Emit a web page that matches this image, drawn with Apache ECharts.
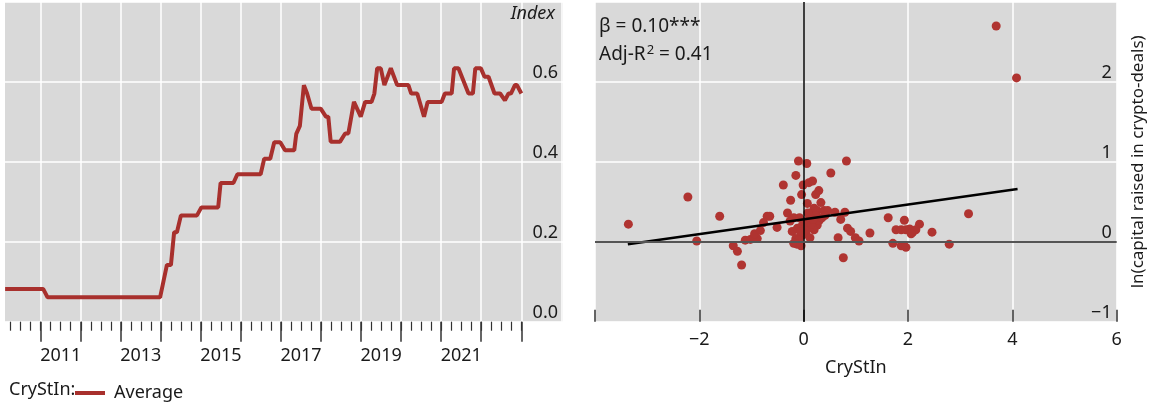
<!DOCTYPE html>
<html><head><meta charset="utf-8">
<script src="https://cdn.jsdelivr.net/npm/echarts@6.0.0/dist/echarts.min.js"></script>
<style>html,body{margin:0;padding:0;background:#fff}#c{width:1154px;height:407px}</style>
</head><body><div id="c"></div>
<script>
// ---- Left panel: CryStIn average index (vertices of the step-like line, decimal years)
const lineYears = [2010.11,2011.06,2011.17,2013.98,2014.15,2014.25,2014.33,2014.40,2014.50,2014.90,
  2015.01,2015.43,2015.49,2015.81,2015.91,2016.49,2016.58,2016.73,2016.83,2016.98,
  2017.10,2017.33,2017.38,2017.47,2017.57,2017.65,2017.76,2017.99,2018.12,2018.18,
  2018.24,2018.47,2018.60,2018.68,2018.82,2018.99,2019.10,2019.26,2019.33,2019.40,
  2019.49,2019.58,2019.74,2019.90,2020.18,2020.25,2020.40,2020.57,2020.66,2021.01,
  2021.09,2021.26,2021.32,2021.43,2021.68,2021.79,2021.85,2021.99,2022.08,2022.18,
  2022.33,2022.47,2022.59,2022.68,2022.74,2022.84,2022.89,2023.00];
const lineValues = [0.082,0.082,0.061,0.061,0.142,0.142,0.224,0.224,0.266,0.266,
  0.286,0.286,0.347,0.347,0.369,0.369,0.408,0.408,0.449,0.449,
  0.429,0.429,0.470,0.490,0.592,0.571,0.533,0.533,0.513,0.513,
  0.450,0.450,0.471,0.471,0.550,0.513,0.550,0.550,0.571,0.634,
  0.634,0.592,0.634,0.592,0.592,0.571,0.571,0.513,0.550,0.550,
  0.571,0.571,0.634,0.634,0.571,0.571,0.634,0.634,0.613,0.613,
  0.571,0.571,0.554,0.571,0.571,0.592,0.592,0.571];
const leftYTicks = [0.0, 0.2, 0.4, 0.6];
const yearLabels = [2011, 2013, 2015, 2017, 2019, 2021];

// ---- Right panel: scatter CryStIn vs ln(capital raised)
const scatterX = [3.69,4.08,-3.36,-2.22,-2.05,-1.61,-1.35,-1.27,-1.19,
  -1.12,-1.02,-0.96,-0.89,-0.94,-0.83,-0.77,-0.70,-0.65,-0.51,
  -0.10,0.06,0.82,-0.15,0.52,-0.39,-0.01,0.10,0.17,0.29,0.23,-0.04,-0.25,0.07,0.33,
  -0.31,-0.19,-0.26,0.20,0.26,0.39,0.46,0.17,0.23,0.13,0.10,0.04,-0.03,0.60,0.79,0.71,
  0.26,0.20,0.10,0.01,-0.03,0.04,-0.22,-0.12,-0.06,-0.15,-0.09,-0.19,-0.13,
  0.84,0.90,0.99,1.06,1.27,0.66,0.76,
  1.62,1.93,1.77,1.87,1.96,2.03,1.71,1.87,1.96,
  3.16,2.22,2.09,2.15,2.06,2.46,2.79,
  0.30,0.35,0.15,0.08,0.41,0.18,-0.08,0.12,-0.05];
const scatterY = [2.70,2.05,0.22,0.56,0.01,0.32,-0.05,-0.12,-0.29,
  0.02,0.03,0.05,0.04,0.10,0.14,0.24,0.32,0.32,0.18,
  1.01,0.98,1.01,0.83,0.86,0.71,0.71,0.74,0.76,0.64,0.59,0.59,0.52,0.48,0.49,
  0.36,0.30,0.26,0.42,0.39,0.39,0.39,0.35,0.33,0.31,0.27,0.25,0.20,0.37,0.37,0.28,
  0.21,0.15,0.17,0.15,0.08,0.10,0.13,0.17,0.12,0.04,0.02,-0.02,-0.03,
  0.17,0.13,0.05,0.01,0.11,0.05,-0.20,
  0.30,0.27,0.15,0.15,0.15,0.16,-0.02,-0.05,-0.07,
  0.35,0.22,0.12,0.15,0.10,0.12,-0.03,
  0.27,0.30,0.22,0.36,0.33,0.28,0.30,0.05,-0.05];
const fitX = [-3.37, 4.10];
const fitY = [-0.03, 0.66];
const beta = '0.10', betaStars = '***', adjR2 = '0.41';

const FONT = 'Noto Sans';
const RED = '#a8302d';
const GREY = '#d9d9d9';
const TXT = '#1a1a1a';

const chart = echarts.init(document.getElementById('c'), null, {renderer: 'canvas'});
const hidden = {show: false};
const noLine = {show: false, onZero: false};
const plotTop = 2, plotH = 319.7;
const pxPerYear = 40.05, x2011 = 40.7;
function yrPx(y) { return x2011 + (y - 2011) * pxPerYear; }

const grids = [
  {left: 5, top: plotTop, width: 558, height: plotH, show: true, backgroundColor: GREY, borderWidth: 0},      // 0 data
  {left: yrPx(2011), top: plotTop, width: 13 * pxPerYear, height: plotH},                                      // 1 year split lines
  {left: yrPx(2011), top: plotTop, width: 12 * pxPerYear, height: plotH},                                      // 2 major ticks
  {left: yrPx(2010.25), top: plotTop, width: 12.75 * pxPerYear, height: plotH},                                // 3 quarter ticks
  {left: yrPx(2011.5), top: plotTop, width: 11 * pxPerYear, height: plotH},                                    // 4 year labels
  {left: 595, top: plotTop, width: 521.7, height: plotH, show: true, backgroundColor: GREY, borderWidth: 0}    // 5 scatter
];

const xAxes = [
  {type: 'value', gridIndex: 0, min: 2010.107, max: 2024.04, show: false},
  {type: 'value', gridIndex: 1, min: 2011, max: 2024, interval: 1, z: 1,
    axisLine: noLine, axisTick: hidden, axisLabel: hidden,
    splitLine: {show: true, lineStyle: {color: '#ffffff', width: 1.5}}},
  {type: 'value', gridIndex: 2, min: 2011, max: 2023, interval: 1, z: 1,
    axisLine: noLine, axisLabel: hidden, splitLine: hidden,
    axisTick: {show: true, length: 20, lineStyle: {color: '#333', width: 1.5}}},
  {type: 'value', gridIndex: 3, min: 2010.25, max: 2023, interval: 0.25, z: 1,
    axisLine: noLine, axisLabel: hidden, splitLine: hidden,
    axisTick: {show: true, length: 9, lineStyle: {color: '#333', width: 1.2}}},
  {type: 'value', gridIndex: 4, min: 2011, max: 2022, interval: 2, z: 1,
    axisLine: noLine, axisTick: hidden, splitLine: hidden,
    axisLabel: {show: true, margin: 25, fontFamily: FONT, fontSize: 18, color: TXT,
      formatter: v => yearLabels.indexOf(Math.round(v)) >= 0 ? String(Math.round(v)) : ''}},
  {type: 'value', gridIndex: 5, min: -4, max: 6, interval: 2, z: 1,
    axisLine: noLine,
    axisTick: {show: true, inside: true, length: 12, lineStyle: {color: '#333', width: 1.5}},
    axisLabel: {show: true, margin: 9, fontFamily: FONT, fontSize: 18, color: TXT,
      formatter: v => v === -4 ? '' : (v < 0 ? '\u2212' + (-v) : String(v))},
    splitLine: {show: true, lineStyle: {color: '#ffffff', width: 1.5}},
    name: 'CryStIn', nameLocation: 'middle', nameGap: 37,
    nameTextStyle: {fontFamily: FONT, fontSize: 18, color: TXT}}
];

const yAxes = [
  {type: 'value', gridIndex: 0, min: 0, max: 0.8, interval: 0.2, position: 'right', z: 1,
    axisLine: noLine, axisTick: hidden,
    axisLabel: {show: true, inside: true, margin: 5, verticalAlign: 'bottom', fontFamily: FONT, fontSize: 18, color: TXT,
      formatter: v => leftYTicks.some(t => Math.abs(t - v) < 1e-6) ? v.toFixed(1) : ''},
    splitLine: {show: true, lineStyle: {color: '#ffffff', width: 1.5}}},
  {type: 'value', gridIndex: 1, min: 0, max: 1, show: false},
  {type: 'value', gridIndex: 2, min: 0, max: 1, show: false},
  {type: 'value', gridIndex: 3, min: 0, max: 1, show: false},
  {type: 'value', gridIndex: 4, min: 0, max: 1, show: false},
  {type: 'value', gridIndex: 5, min: -1, max: 3, interval: 1, position: 'right', z: 1,
    axisLine: noLine, axisTick: hidden,
    axisLabel: {show: true, inside: true, margin: 5, verticalAlign: 'bottom', fontFamily: FONT, fontSize: 18, color: TXT,
      formatter: v => v === 3 ? '' : (v < 0 ? '\u2212' + (-v) : String(v))},
    splitLine: {show: true, lineStyle: {color: '#ffffff', width: 1.5}},
    name: 'ln(capital raised in crypto-deals)', nameLocation: 'middle', nameGap: 13,
    nameTextStyle: {fontFamily: FONT, fontSize: 17, color: TXT}}
];

const option = {
  animation: false,
  textStyle: {fontFamily: FONT},
  grid: grids,
  xAxis: xAxes,
  yAxis: yAxes,
  title: [
    {text: 'Index', right: 599, top: 5, padding: 0,
      textStyle: {fontFamily: FONT, fontSize: 18, fontStyle: 'italic', fontWeight: 'normal', color: TXT}},
    {text: 'CryStIn:', left: 9, top: 381, padding: 0,
      textStyle: {fontFamily: FONT, fontSize: 18, fontWeight: 'normal', color: TXT}},
    {text: '{a|\u03b2 = ' + beta + betaStars + '}\n{a|Adj-R}{s|2}{a| = ' + adjR2 + '}', left: 599, top: 13, padding: 0,
      textStyle: {fontWeight: 'normal', rich: {
        a: {fontFamily: FONT, fontSize: 19, fontWeight: 'normal', color: TXT, lineHeight: 28},
        s: {fontFamily: FONT, fontSize: 13, fontWeight: 'normal', color: TXT, lineHeight: 13, verticalAlign: 'top', padding: [3, 0, 0, 1]}
      }}}
  ],
  legend: {data: [{name: 'Average', icon: 'rect'}], left: 75, top: 384, itemWidth: 30, itemHeight: 4, padding: 0,
    textStyle: {fontFamily: FONT, fontSize: 18, color: TXT, padding: [0, 0, 0, 4]}},
  series: [
    {name: 'Average', type: 'line', xAxisIndex: 0, yAxisIndex: 0, symbol: 'none', z: 3,
      lineStyle: {color: RED, width: 4}, itemStyle: {color: RED},
      data: lineYears.map((y, i) => [y, lineValues[i]])},
    {name: 'axes0', type: 'scatter', xAxisIndex: 5, yAxisIndex: 5, data: [], z: 2, silent: true,
      markLine: {silent: true, symbol: ['none', 'none'], label: {show: false}, animation: false,
        data: [
          {xAxis: 0, lineStyle: {color: '#000', width: 1.5, type: 'solid'}},
          {yAxis: 0, lineStyle: {color: '#555', width: 2, type: 'solid'}}
        ]}},
    {name: 'deals', type: 'scatter', xAxisIndex: 5, yAxisIndex: 5, symbolSize: 9, z: 3,
      itemStyle: {color: '#b03431', opacity: 1},
      data: scatterX.map((x, i) => [x, scatterY[i]])},
    {name: 'fit', type: 'line', xAxisIndex: 5, yAxisIndex: 5, symbol: 'none', z: 4, silent: true,
      lineStyle: {color: '#000', width: 2.5},
      data: fitX.map((x, i) => [x, fitY[i]])}
  ]
};
chart.setOption(option);
</script>
</body></html>
